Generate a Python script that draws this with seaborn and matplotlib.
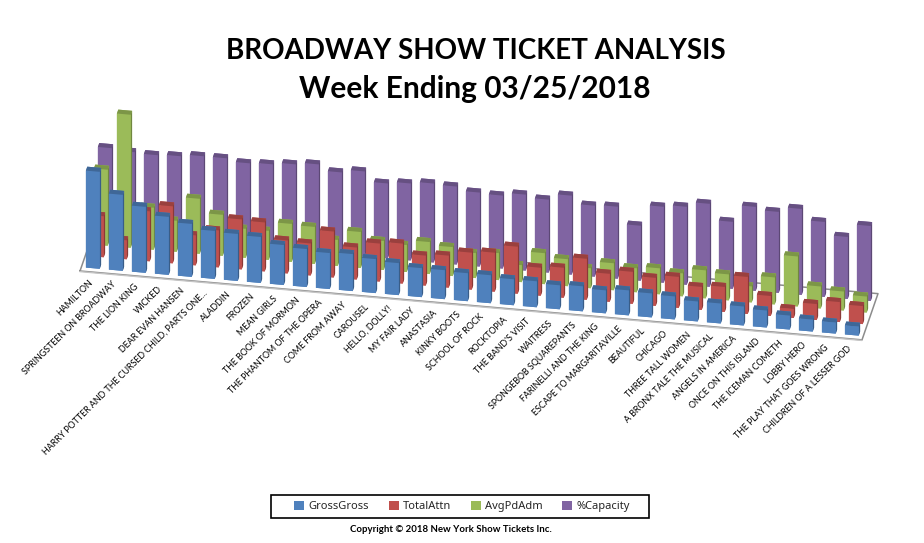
import numpy as np
import matplotlib
matplotlib.use("Agg")
import matplotlib.pyplot as plt
from matplotlib.patches import Patch, Rectangle
from matplotlib.colors import to_rgb
from mpl_toolkits.mplot3d import proj3d
import seaborn as sns

shows = ["HAMILTON", "SPRINGSTEEN ON BROADWAY", "THE LION KING", "WICKED", "DEAR EVAN HANSEN",
         "HARRY POTTER AND THE CURSED CHILD, PARTS ONE...", "ALADDIN", "FROZEN", "MEAN GIRLS",
         "THE BOOK OF MORMON", "THE PHANTOM OF THE OPERA", "COME FROM AWAY", "CAROUSEL",
         "HELLO, DOLLY!", "MY FAIR LADY", "ANASTASIA", "KINKY BOOTS", "SCHOOL OF ROCK", "ROCKTOPIA",
         "THE BAND'S VISIT", "WAITRESS", "SPONGEBOB SQUAREPANTS", "FARINELLI AND THE KING",
         "ESCAPE TO MARGARITAVILLE", "BEAUTIFUL", "CHICAGO", "THREE TALL WOMEN",
         "A BRONX TALE THE MUSICAL", "ANGELS IN AMERICA", "ONCE ON THIS ISLAND", "THE ICEMAN COMETH",
         "LOBBY HERO", "THE PLAY THAT GOES WRONG", "CHILDREN OF A LESSER GOD"]
gross = [97, 76, 66, 58, 53, 48, 47, 46, 40, 38, 36, 37, 34, 32, 29, 29, 28, 28, 26, 26, 24, 25, 23, 25,
         24, 23, 20, 20, 19, 17, 14, 12, 11, 9]
attn = [41, 19, 50, 57, 30, 37, 50, 49, 33, 32, 46, 32, 38, 40, 30, 32, 37, 39, 47, 28, 30, 41, 28, 32,
        28, 31, 23, 25, 37, 20, 9, 16, 20, 18]
avgpd = [76, 133, 42, 31, 55, 41, 29, 29, 38, 37, 26, 36, 29, 27, 32, 29, 25, 27, 17, 31, 27, 20, 27, 24,
         26, 23, 28, 26, 16, 27, 50, 22, 19, 16]
capacity = [86, 84, 83, 84, 86, 86, 83, 84, 86, 88, 82, 85, 75, 77, 79, 78, 74, 73, 76, 73, 79, 71, 72, 55,
            76, 78, 83, 67, 84, 81, 86, 75, 62, 75]
series_names = ["GrossGross", "TotalAttn", "AvgPdAdm", "%Capacity"]
series_values = [gross, attn, avgpd, capacity]
palette = sns.color_palette(["#4F81BD", "#C0504D", "#9BBB59", "#8064A2"])

sns.set_theme(style="white")
plt.rcParams["font.family"] = ["Lato", "DejaVu Sans"]

W, H = 924, 543
fig = plt.figure(figsize=(W / 100, H / 100), dpi=100, facecolor="white")
ax = fig.add_axes([0, 0, 1, W / H], projection="3d", proj_type="ortho", computed_zorder=False)
ax.set_axis_off()
ax.patch.set_alpha(0)
ELEV, AZIM = 30.3, -80.1
ax.view_init(elev=ELEV, azim=AZIM)
n = len(shows)
ZMAX = 150
ax.set_xlim(0, n)
ax.set_ylim(0, 4)
ax.set_zlim(0, ZMAX)
aspect = (794, 93, ZMAX / np.cos(np.radians(ELEV)))


def to_px(x, y, z):
    px, py, _ = proj3d.proj_transform(x, y, z, ax.get_proj())
    return ax.transData.transform((px, py))


# calibrate plot scale and placement so that the floor sits where it does in the chart
ax.set_box_aspect(aspect, zoom=1.0)
ax.apply_aspect()
span = np.linalg.norm(to_px(n, 0, 0) - to_px(0, 0, 0))
target = np.hypot(782, 69)
ax.set_box_aspect(aspect, zoom=target / span)
ax.apply_aspect()
p0 = to_px(0, 0, 0)
dx, dy = (80 - p0[0]) / W, ((H - 271) - p0[1]) / H
ax.set_position([dx, dy, 1, W / H])
ax.apply_aspect()


def shades(c):
    c = np.array(to_rgb(c))
    front = tuple(c)
    side = tuple(c * 0.72)
    top = tuple(c * 0.80)
    # bottom, top, front, back, left, right
    return [front, top, front, front, front, side]


BAR_W, BAR_D = 0.6, 0.34
for row in range(3, -1, -1):
    for i in range(n):
        col = ax.bar3d(i + (1 - BAR_W) / 2, row + (1 - BAR_D) / 2, 0, BAR_W, BAR_D,
                       series_values[row][i], color=shades(palette[row]), shade=False,
                       edgecolor="none", linewidth=0)
        col.set_zorder(10 + (3 - row) * 100 + i)

# floor
fx = [0, n, n, 0, 0]
fy = [0, 0, 4, 4, 0]
ax.plot(fx, fy, [0] * 5, color="#8c8c8c", lw=1.1, zorder=5)
ax.plot([0, n], [-0.05, -0.05], [0, 0], color="#c4c4c4", lw=1.0, zorder=5)

for i, name in enumerate(shows):
    px, py = to_px(i + 0.5, 0, -9)
    fig.text(px / W, py / H, name, rotation=45, ha="right", va="center", rotation_mode="anchor",
             fontsize=6.4, color="black")

fig.text(476 / W, 1 - 51 / H, "BROADWAY SHOW TICKET ANALYSIS", ha="center", va="center",
         fontsize=20, fontweight="bold", color="black")
fig.text(475 / W, 1 - 89 / H, "Week Ending 03/25/2018", ha="center", va="center",
         fontsize=21.5, fontweight="bold", color="black")

fig.add_artist(Rectangle((271 / W, 1 - 518 / H), 378 / W, 23 / H, transform=fig.transFigure,
                         facecolor="white", edgecolor="black", linewidth=1.2))
handles = [Patch(facecolor=c, edgecolor="none", label=s) for c, s in zip(palette, series_names)]
leg = fig.legend(handles=handles, loc="center", bbox_to_anchor=(462 / W, 1 - 506.5 / H), ncol=4, frameon=False,
                 handlelength=0.9, handleheight=0.9, handletextpad=0.35, columnspacing=1.8,
                 borderpad=0, borderaxespad=0, prop={"family": "Noto Sans", "size": 8.0})

fig.text(451 / W, 1 - 530 / H, "Copyright © 2018 New York Show Tickets Inc.", ha="center", va="center",
         fontsize=6.9, fontweight="bold", color="black")

fig.savefig("out.png", dpi=100)
